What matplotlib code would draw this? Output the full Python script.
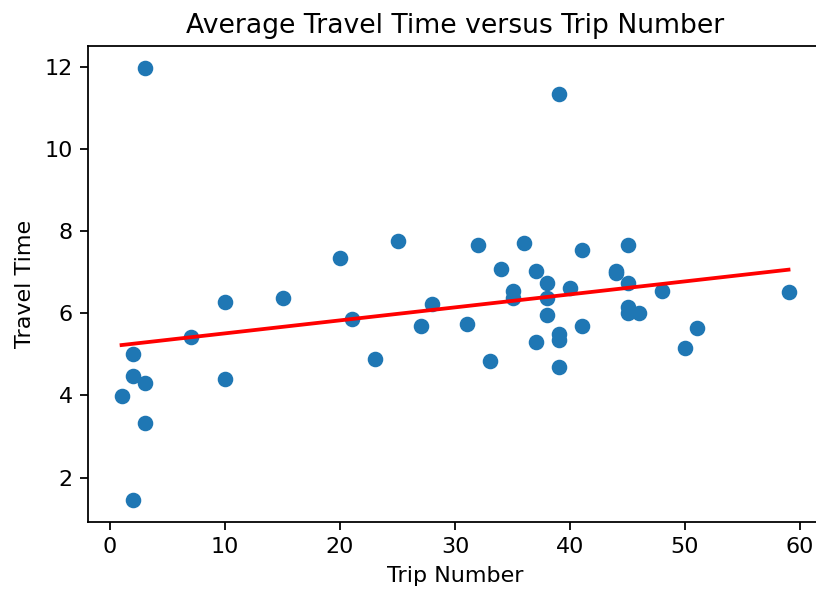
import numpy as np
import matplotlib
matplotlib.use("Agg")
import matplotlib.pyplot as plt

trip_number = [1, 2, 2, 2, 3, 3, 3, 7, 10, 10, 15, 20, 21, 23, 25, 27, 28, 31, 32, 33,
               34, 35, 35, 36, 37, 37, 38, 38, 38, 39, 39, 39, 39, 40, 41, 41, 44, 44,
               45, 45, 45, 45, 46, 48, 50, 51, 59]
travel_time = [3.98, 5.0, 4.46, 1.45, 11.98, 4.31, 3.33, 5.42, 6.28, 4.41, 6.38, 7.34, 5.85,
               4.88, 7.77, 5.69, 6.22, 5.73, 7.67, 4.84, 7.07, 6.54, 6.38, 7.72, 7.02, 5.30,
               6.73, 6.37, 5.95, 11.34, 5.49, 5.35, 4.68, 6.62, 7.55, 5.69, 7.03, 6.97,
               7.67, 6.73, 6.16, 6.01, 6.01, 6.54, 5.16, 5.63, 6.52]

x = np.array(trip_number, dtype=float)
y = np.array(travel_time, dtype=float)
slope, intercept = np.polyfit(x, y, 1)

DPI = 160
fig = plt.figure(figsize=(816 / DPI, 593 / DPI), dpi=DPI)
ax = fig.add_axes([0.1081, 0.1202, 0.8991, 0.8022])
ax.scatter(x, y, color="#1f77b4")
xs = np.sort(x)
ax.plot(xs, slope * xs + intercept, color="red", linewidth=1.7)
ax.set_title("Average Travel Time versus Trip Number")
ax.set_xlabel("Trip Number")
ax.set_ylabel("Travel Time")
fig.savefig("out.png", dpi=DPI)
